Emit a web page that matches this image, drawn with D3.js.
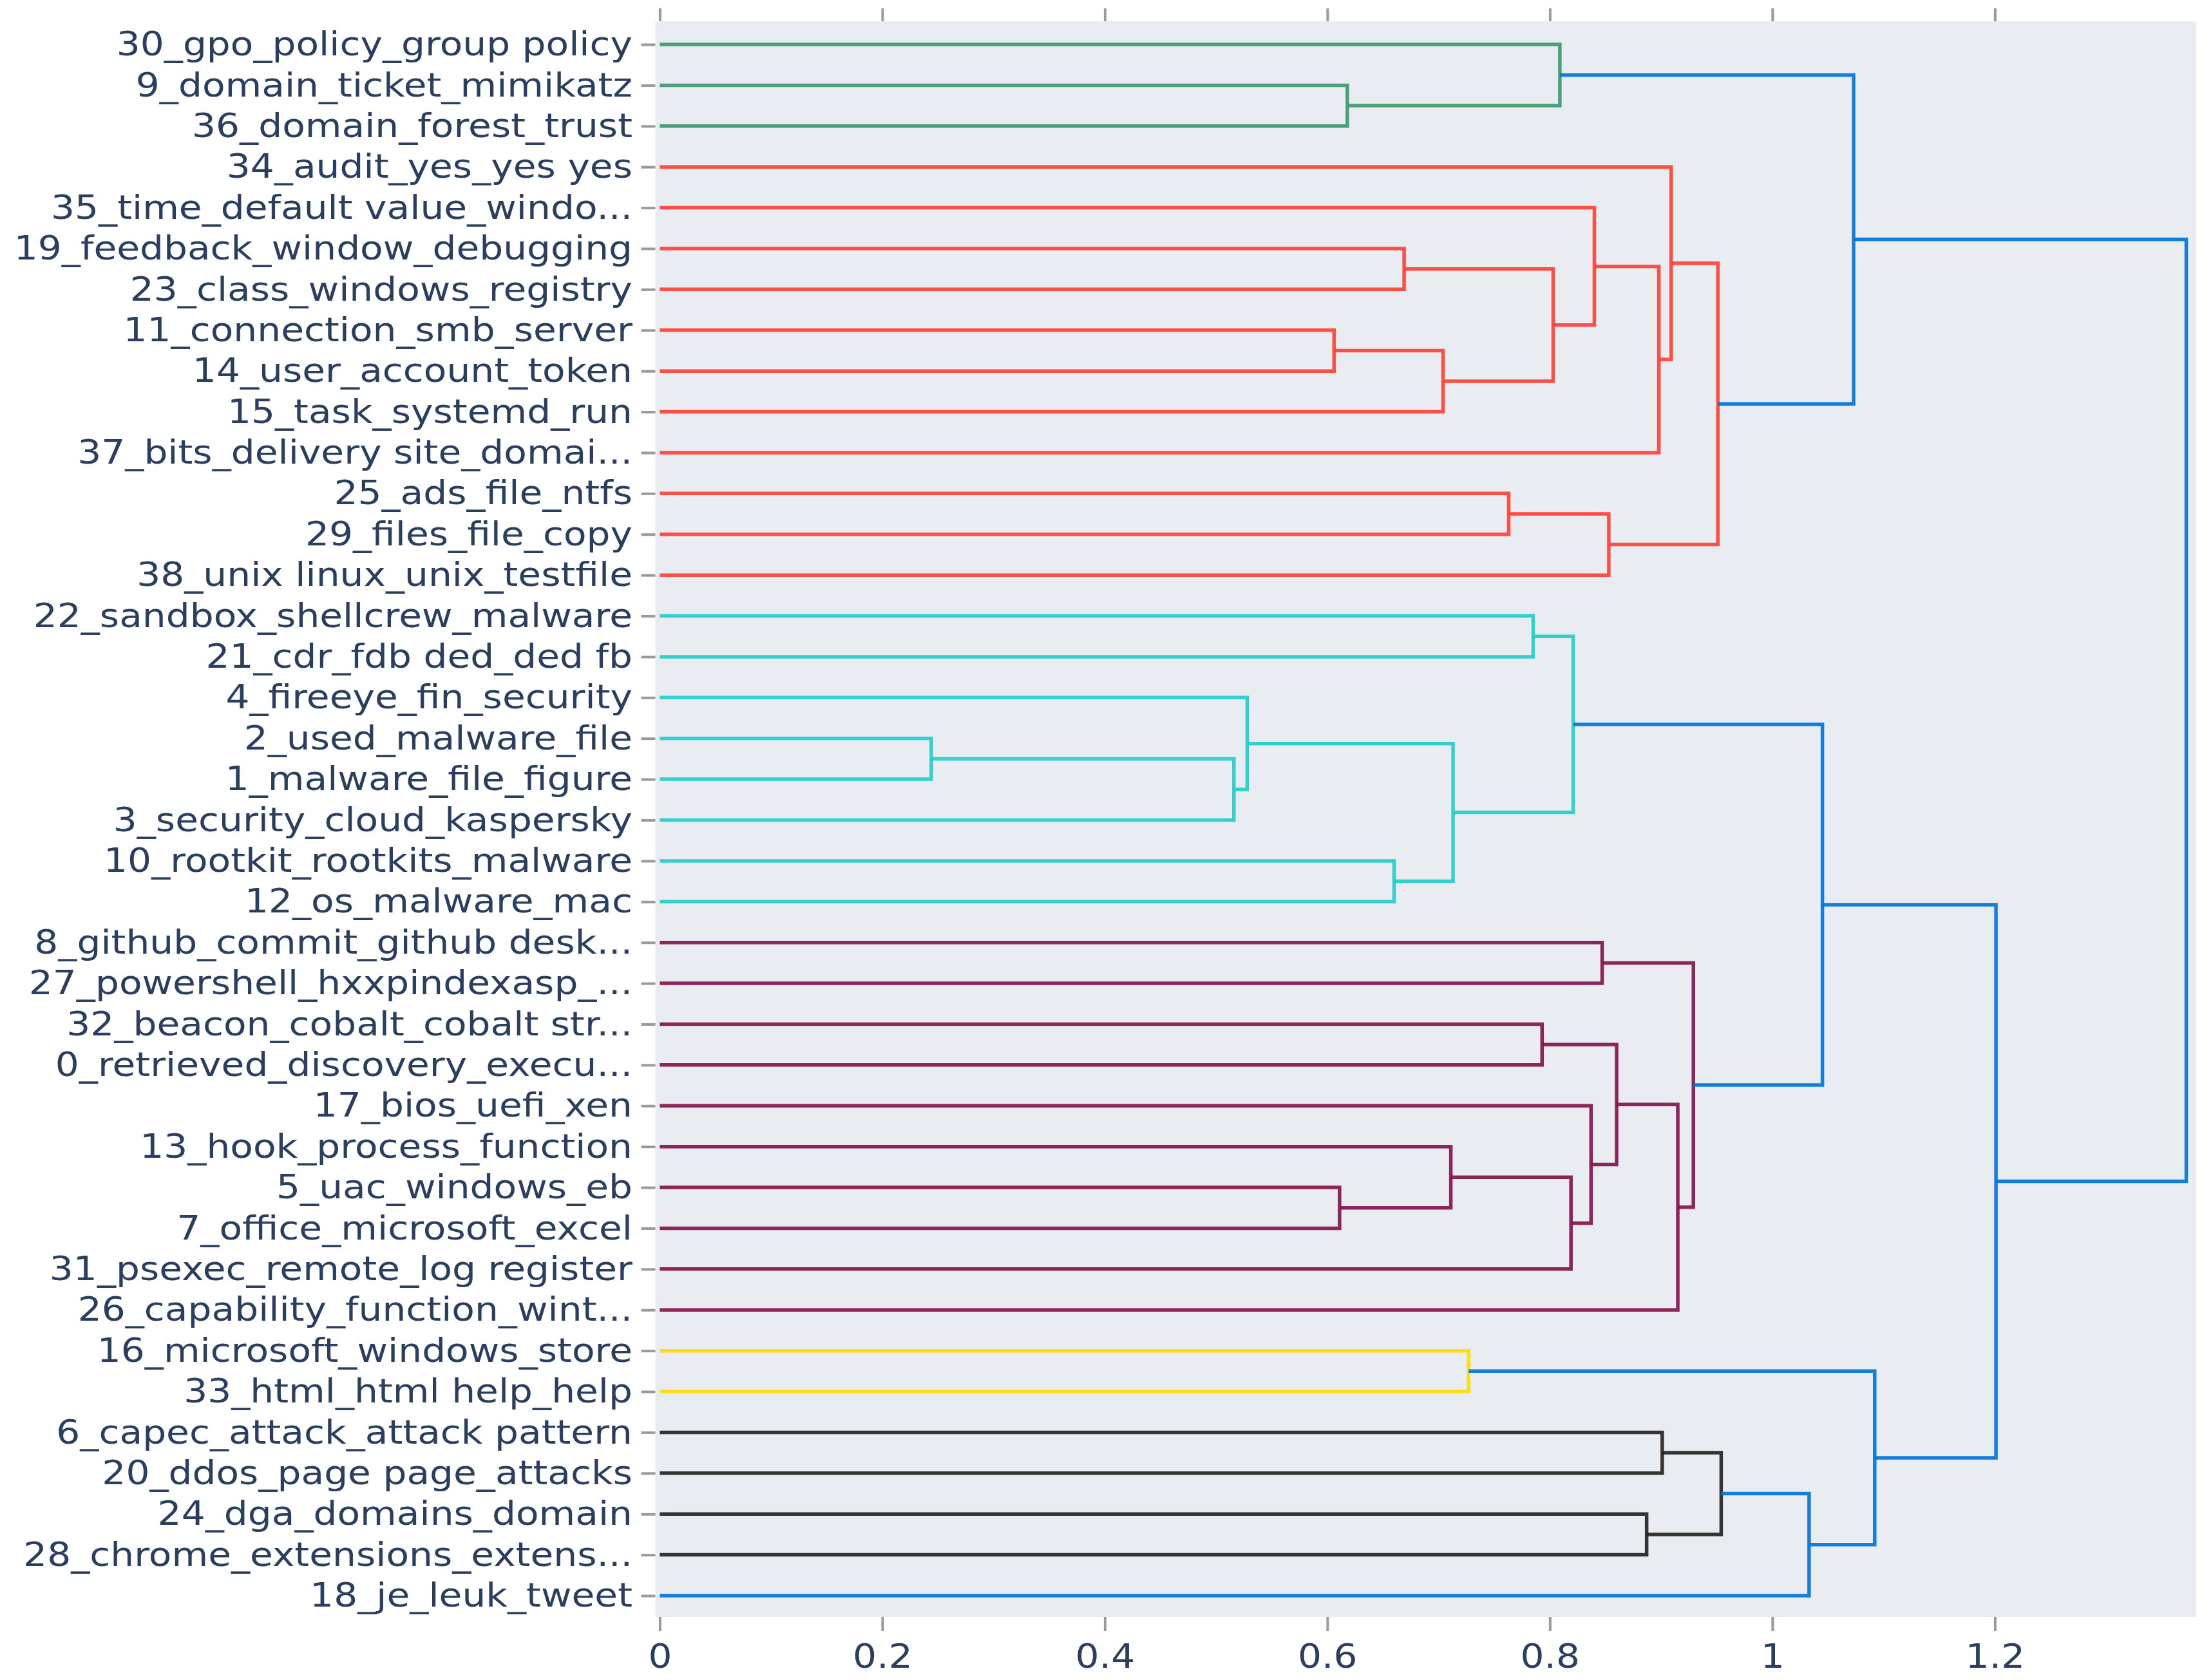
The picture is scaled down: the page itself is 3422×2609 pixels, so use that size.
<!DOCTYPE html>
<html>
<head>
<meta charset="utf-8">
<script src="https://cdn.jsdelivr.net/npm/d3@7"></script>
<style>
  body { margin: 0; background: #fff; }
</style>
</head>
<body>
<script>
// leaves, top to bottom
const leafLabels = [
    '30_gpo_policy_group policy',
    '9_domain_ticket_mimikatz',
    '36_domain_forest_trust',
    '34_audit_yes_yes yes',
    '35_time_default value_windo...',
    '19_feedback_window_debugging',
    '23_class_windows_registry',
    '11_connection_smb_server',
    '14_user_account_token',
    '15_task_systemd_run',
    '37_bits_delivery site_domai...',
    '25_ads_file_ntfs',
    '29_files_file_copy',
    '38_unix linux_unix_testfile',
    '22_sandbox_shellcrew_malware',
    '21_cdr_fdb ded_ded fb',
    '4_fireeye_fin_security',
    '2_used_malware_file',
    '1_malware_file_figure',
    '3_security_cloud_kaspersky',
    '10_rootkit_rootkits_malware',
    '12_os_malware_mac',
    '8_github_commit_github desk...',
    '27_powershell_hxxpindexasp_...',
    '32_beacon_cobalt_cobalt str...',
    '0_retrieved_discovery_execu...',
    '17_bios_uefi_xen',
    '13_hook_process_function',
    '5_uac_windows_eb',
    '7_office_microsoft_excel',
    '31_psexec_remote_log register',
    '26_capability_function_wint...',
    '16_microsoft_windows_store',
    '33_html_html help_help',
    '6_capec_attack_attack pattern',
    '20_ddos_page page_attacks',
    '24_dga_domains_domain',
    '28_chrome_extensions_extens...',
    '18_je_leuk_tweet',
];

// [left, right, distance]; a number is a leaf topic id, 'nK' is the K-th merge
const merges = [
    [9, 36, 0.618],
    [30, 'n0', 0.809],
    [19, 23, 0.669],
    [11, 14, 0.606],
    ['n3', 15, 0.704],
    ['n2', 'n4', 0.803],
    [35, 'n5', 0.840],
    ['n6', 37, 0.898],
    [34, 'n7', 0.909],
    [25, 29, 0.763],
    ['n9', 38, 0.853],
    ['n8', 'n10', 0.951],
    ['n1', 'n11', 1.073],
    [22, 21, 0.785],
    [2, 1, 0.244],
    ['n14', 3, 0.516],
    [4, 'n15', 0.528],
    [10, 12, 0.660],
    ['n16', 'n17', 0.713],
    ['n13', 'n18', 0.821],
    [8, 27, 0.847],
    [32, 0, 0.793],
    [5, 7, 0.611],
    [13, 'n22', 0.711],
    ['n23', 31, 0.819],
    [17, 'n24', 0.837],
    ['n21', 'n25', 0.860],
    ['n26', 26, 0.915],
    ['n20', 'n27', 0.929],
    ['n19', 'n28', 1.045],
    [16, 33, 0.727],
    [6, 20, 0.901],
    [24, 28, 0.887],
    ['n31', 'n32', 0.954],
    ['n33', 18, 1.033],
    ['n30', 'n34', 1.092],
    ['n29', 'n35', 1.201],
    ['n12', 'n36', 1.372],
];

const mergeGroups = [
    'green', 'green',
    'red', 'red', 'red', 'red', 'red', 'red', 'red', 'red', 'red', 'red',
    'blue',
    'cyan', 'cyan', 'cyan', 'cyan', 'cyan', 'cyan', 'cyan',
    'maroon', 'maroon', 'maroon', 'maroon', 'maroon', 'maroon', 'maroon', 'maroon', 'maroon',
    'blue',
    'yellow',
    'black', 'black', 'black',
    'blue', 'blue', 'blue', 'blue',
];

const palette = {
    green: 'rgb(61,153,112)',
    red: 'rgb(255,65,54)',
    blue: 'rgb(0,116,217)',
    cyan: 'rgb(35,205,205)',
    maroon: 'rgb(133,20,75)',
    yellow: 'rgb(255,220,0)',
    black: 'rgb(40,35,35)',
};

const xTicks = [0, 0.2, 0.4, 0.6, 0.8, 1, 1.2];

function makeDendrogram(svg) {
    const plot = { left: 1017.5, right: 3410, top: 33, bottom: 2511 };
    const textStretch = 1.12;
    const font = '"DejaVu Sans", Verdana, sans-serif';

    const scX = d3.scaleLinear().domain([-0.004, 1.381]).range([plot.left, plot.right]);
    const scY = d3.scaleLinear().domain([0, leafLabels.length - 1]).range([69, 2478]);

    svg.append('rect')
        .attrs({
            x: plot.left,
            y: plot.top,
            width: plot.right - plot.left,
            height: plot.bottom - plot.top,
            fill: '#e9edf2'
        });

    // positions of leaves and merged nodes, in (distance, row) units
    const nodes = {};
    leafLabels.forEach((lab, i) => {
        nodes[+lab.split('_')[0]] = { h: 0, row: i };
    });
    const links = merges.map((m, k) => {
        const a = nodes[m[0]], b = nodes[m[1]];
        nodes['n' + k] = { h: m[2], row: (a.row + b.row) / 2 };
        return {
            group: mergeGroups[k],
            pts: [[a.h, a.row], [m[2], a.row], [m[2], b.row], [b.h, b.row]]
        };
    });

    const line = d3.line().x(d => scX(d[0])).y(d => scY(d[1]));

    svg.append('g')
        .selectAll('path')
        .data(links)
        .enter()
        .append('path')
        .attrs({
            d: d => line(d.pts),
            fill: 'none',
            stroke: d => palette[d.group],
            'stroke-width': 5.5,
            'stroke-opacity': 0.92,
            'stroke-linejoin': 'miter'
        });

    // y axis with leaf labels
    const scLeaf = d3.scalePoint().domain(leafLabels).range(scY.range());
    const yAxis = svg.append('g')
        .attr('transform', `translate(${plot.left},0)`)
        .call(d3.axisLeft(scLeaf).tickSize(22).tickPadding(13.5));

    // bottom and top x axes
    const xBottom = svg.append('g')
        .attr('transform', `translate(0,${plot.bottom})`)
        .call(d3.axisBottom(scX).tickValues(xTicks).tickFormat(d3.format('~g')).tickSize(22).tickPadding(20));
    const xTop = svg.append('g')
        .attr('transform', `translate(0,${plot.top})`)
        .call(d3.axisTop(scX).tickValues(xTicks).tickFormat('').tickSize(20));

    [yAxis, xBottom, xTop].forEach(ax => {
        ax.select('.domain').remove();
        ax.selectAll('.tick line').attrs({ stroke: '#9a9a9a', 'stroke-width': 4 });
        ax.selectAll('text')
            .attrs({ fill: '#2a3f5f', 'font-family': font, 'font-size': 52 });
    });

    yAxis.selectAll('text')
        .attr('x', -(22 + 13.5) / textStretch)
        .attr('transform', `scale(${textStretch},1)`);
    xBottom.selectAll('text')
        .attr('transform', `scale(${textStretch},1)`);
}

function main() {
    const svg = d3.select('body')
        .append('svg')
        .attr('width', 3422)
        .attr('height', 2609);
    // small helper like d3-selection-multi's attrs
    d3.selection.prototype.attrs = function(obj) {
        Object.entries(obj).forEach(([k, v]) => this.attr(k, v));
        return this;
    };
    makeDendrogram(svg);
}

main();
</script>
</body>
</html>
